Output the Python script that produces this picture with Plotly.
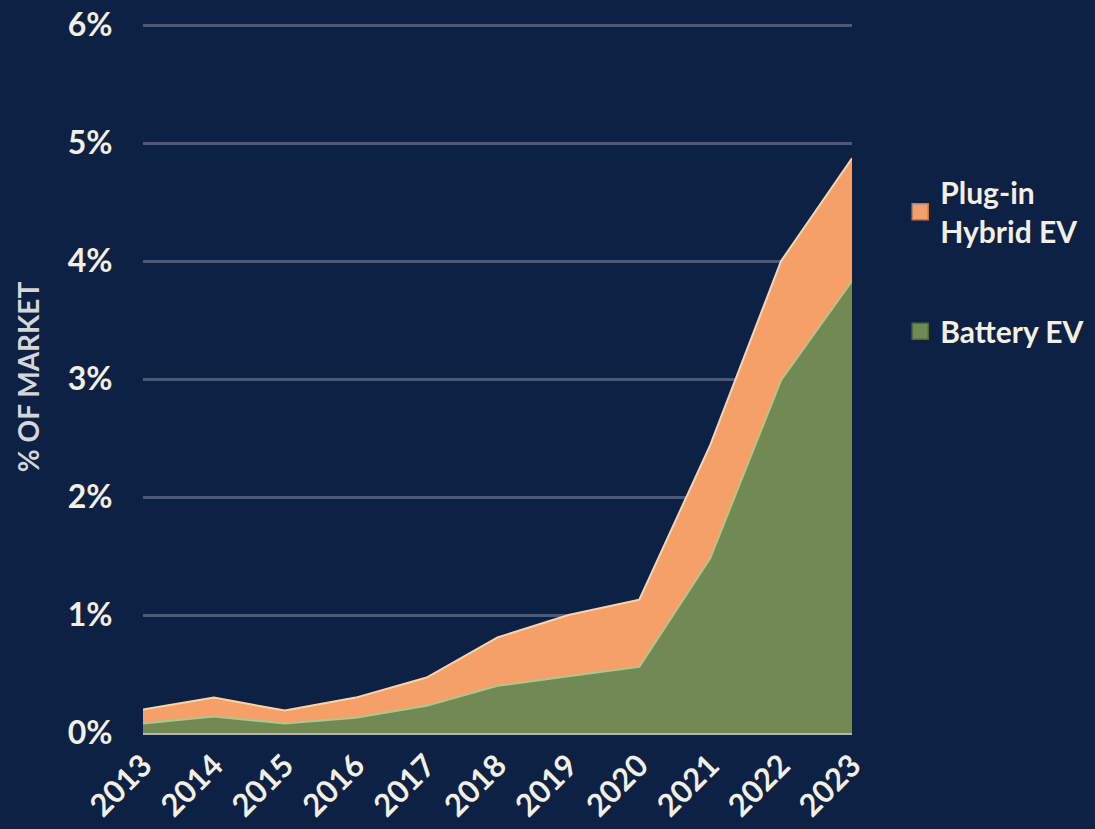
import plotly.graph_objects as go

years = [2013, 2014, 2015, 2016, 2017, 2018, 2019, 2020, 2021, 2022, 2023]
battery_ev = [0.08, 0.14, 0.08, 0.13, 0.23, 0.40, 0.48, 0.56, 1.48, 2.99, 3.83]
plugin_hybrid_ev = [0.12, 0.16, 0.11, 0.17, 0.24, 0.41, 0.52, 0.57, 0.96, 1.01, 1.04]
y_ticks = [0, 1, 2, 3, 4, 5, 6]

BG = "#0d2144"
TXT = "#f3efe2"
FONT = "Lato, 'Open Sans', sans-serif"
GREEN = "#718a54"
ORANGE = "#f5a068"

fig = go.Figure()
fig.add_trace(go.Scatter(
    x=years, y=battery_ev, name="Battery EV", stackgroup="one",
    mode="lines", line=dict(color="#a9c98e", width=2),
    fillcolor=GREEN, showlegend=False,
))
fig.add_trace(go.Scatter(
    x=years, y=plugin_hybrid_ev, name="Plug-in Hybrid EV", stackgroup="one",
    mode="lines", line=dict(color="#ffd3a3", width=2),
    fillcolor=ORANGE, showlegend=False,
))
# legend entries (square swatches)
fig.add_trace(go.Scatter(
    x=[None], y=[None], mode="markers", name="Plug-in<br>Hybrid EV",
    marker=dict(symbol="square", size=18, color=ORANGE,
                line=dict(color="#c8784a", width=1.5)),
    legendgroup="a", legendrank=1,
))
fig.add_trace(go.Scatter(
    x=[None], y=[None], mode="markers", name="Battery EV",
    marker=dict(symbol="square", size=18, color=GREEN,
                line=dict(color="#4f6a3a", width=1.5)),
    legendgroup="b", legendrank=2,
))

fig.update_layout(
    width=1095, height=829,
    paper_bgcolor=BG, plot_bgcolor=BG,
    margin=dict(l=143, r=243, t=21, b=96, autoexpand=False),
    font=dict(family=FONT, color=TXT, size=26),
    showlegend=True,
    legend=dict(
        x=1.068, y=0.796, xanchor="left", yanchor="top",
        traceorder="grouped", tracegroupgap=58,
        font=dict(family=FONT, size=30, color=TXT, weight="bold"),
        bgcolor="rgba(0,0,0,0)", itemwidth=30,
    ),
    xaxis=dict(
        range=[2013, 2023], tickmode="array", tickvals=years,
        ticktext=[str(y) for y in years], tickangle=-45,
        showgrid=False, zeroline=False, automargin=False,
        showline=True, linecolor="#b7b9a4", linewidth=2,
        tickfont=dict(family=FONT, size=31, color=TXT, weight="bold"),
        ticks="", ticklen=0,
    ),
    yaxis=dict(
        range=[0, 6.034], tickmode="array", tickvals=y_ticks,
        ticktext=[f"{v}%" for v in y_ticks],
        showgrid=True, gridcolor="#4a5a78", gridwidth=3,
        zeroline=False, showline=False, automargin=False,
        tickfont=dict(family=FONT, size=32, color=TXT, weight="bold"),
        ticks="outside", ticklen=23, tickcolor="rgba(0,0,0,0)",
        title=dict(text="% OF MARKET", standoff=20,
                   font=dict(family=FONT, size=28, color="#d6d6d6", weight="bold")),
    ),
)

fig.write_html("out.html", config={"displayModeBar": False})

with open("out.html", encoding="utf-8") as f:
    html = f.read()
html = html.replace(
    "<head>",
    "<head><style>html,body{margin:0;padding:0;background:#0d2144;overflow:hidden;}</style>",
    1,
)
with open("out.html", "w", encoding="utf-8") as f:
    f.write(html)
